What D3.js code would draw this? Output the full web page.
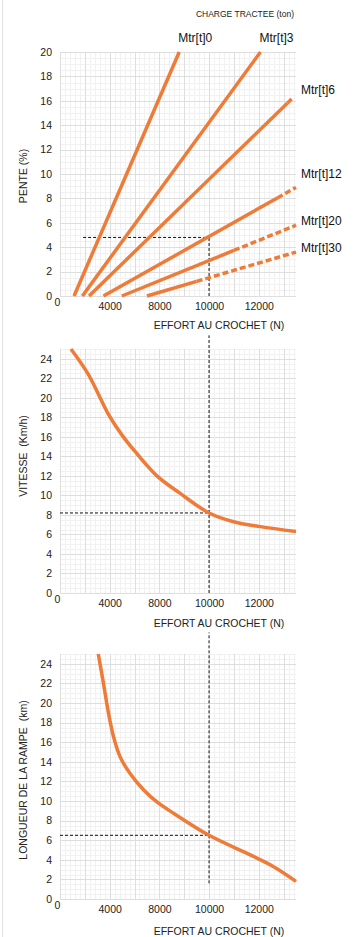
<!DOCTYPE html>
<html>
<head>
<meta charset="utf-8">
<script src="https://cdnjs.cloudflare.com/ajax/libs/d3/7.8.5/d3.min.js"></script>
<style>
  body { margin: 0; background: #fff; }
  svg { display: block; font-family: "Liberation Sans", Arial, sans-serif; }
  .axe text { font-size: 10.5px; fill: #222; }
  .titre { font-size: 10.5px; fill: #222; white-space: pre; }
  .serie { font-size: 12px; fill: #111; }
</style>
</head>
<body>
<div id="graphic"></div>
<script>
// Abaques de traction : pente, vitesse et longueur de rampe selon l'effort au crochet

// Axe X commun (effort au crochet, N)
const effortMin = 4000, effortMax = 13500;
const xTicks = [4000, 6000, 8000, 10000, 12000];
const xTickLabels = ["0", "4000", "8000", "10000", "12000"];

// Graphe 1 : pente (%) selon la charge tractée (droites)
const charges = ["Mtr[t]0", "Mtr[t]3", "Mtr[t]6", "Mtr[t]12", "Mtr[t]20", "Mtr[t]30"];
const penteEffortDebut = [4565, 4900, 5170, 5750, 6490, 7500];
const penteEffortFin = [8800, 12070, 13400, 13500, 13500, 13500];
const penteFin = [20, 20, 16.3, 8.9, 5.8, 3.6];
const effortPointilles = [null, null, 13150, 12750, 11000, 9500]; // début du tronçon en pointillés

// Graphe 2 : vitesse (km/h)
const vitesseEffort = [4440, 5140, 5950, 6490, 7020, 7900, 8840, 10000, 10990, 12060, 13500];
const vitesse = [25, 22.4, 18.3, 16.2, 14.5, 12.0, 10.2, 8.2, 7.3, 6.8, 6.3];

// Graphe 3 : longueur de la rampe (km)
const rampeEffort = [5540, 5750, 5950, 6150, 6420, 6820, 7360, 7900, 8600, 10000, 11660, 12600, 13500];
const rampe = [25, 22, 19.0, 16.6, 14.5, 12.8, 11.15, 9.9, 8.7, 6.5, 4.5, 3.3, 1.8];

// Lecture sur l'abaque (tirets noirs)
const effortLu = 10000;
const valeursLues = [4.8, 8.2, 6.5];
const verticaleBas = [0, 0, 1.6];
const verticaleHaut = [4.8, 26.4, 27.2];

// Mise en page
const largeur = 353, hauteur = 937;
const gauche = 60, droite = 296;
const orange = "#ee7b38";

let cadre = d3.select("#graphic")
  .append("svg")
  .attr("width", largeur)
  .attr("height", hauteur);

// filet gris du bord gauche de la page
cadre.append("line")
  .attr("x1", 2.5).attr("x2", 2.5).attr("y1", 0).attr("y2", hauteur)
  .attr("stroke", "#e2e2e2");

let x = d3.scaleLinear().domain([effortMin, effortMax]).range([gauche, droite]);

// Dessine la grille, les axes et les titres d'un graphe, renvoie l'échelle Y
function dessinerCadre(haut, bas, yMax, titreY, centreY, basTitreX) {
  let y = d3.scaleLinear().domain([0, yMax]).range([bas, haut]);
  let g = cadre.append("g");

  // grille fine puis grille principale
  let grilles = [
    {vx: d3.range(effortMin, effortMax, 200), vy: d3.range(0, yMax + 0.01, 0.5), c: "#f1f1f1"},
    {vx: d3.range(effortMin, effortMax, 1000), vy: d3.range(0, yMax + 0.01, 2), c: "#dedede"}
  ];
  grilles.forEach(function(gr) {
    let gx = g.append("g")
      .attr("transform", `translate(0,${bas})`)
      .call(d3.axisBottom(x).tickValues(gr.vx).tickSize(-(bas - haut)).tickFormat(""));
    let gy = g.append("g")
      .attr("transform", `translate(${gauche},0)`)
      .call(d3.axisLeft(y).tickValues(gr.vy).tickSize(-(droite - gauche)).tickFormat(""));
    [gx, gy].forEach(function(s) {
      s.select(".domain").remove();
      s.selectAll("line").attr("stroke", gr.c).attr("shape-rendering", "crispEdges");
    });
  });

  // Axe X
  let ax = g.append("g")
    .attr("class", "axe")
    .attr("transform", `translate(0,${bas})`)
    .call(d3.axisBottom(x).tickValues(xTicks).tickSize(0).tickPadding(7)
      .tickFormat(function(d, i) { return xTickLabels[i]; }));
  ax.select(".domain").remove();
  ax.selectAll("text").attr("font-family", null).attr("font-size", null);
  ax.selectAll(".tick text").filter(function(d, i) { return i === 0; })
    .attr("dx", -3).attr("y", 3);

  // Axe Y
  let ay = g.append("g")
    .attr("class", "axe")
    .attr("transform", `translate(${gauche},0)`)
    .call(d3.axisLeft(y).tickValues(d3.range(0, yMax + 0.01, 2)).tickSize(0).tickPadding(8));
  ay.select(".domain").remove();
  ay.selectAll("text").attr("font-family", null).attr("font-size", null);

  // Titres
  g.append("text")
    .attr("class", "titre")
    .attr("transform", `translate(23,${centreY}) rotate(-90)`)
    .attr("text-anchor", "middle")
    .attr("dy", "0.35em")
    .text(titreY);

  g.append("text")
    .attr("class", "titre")
    .attr("x", 219)
    .attr("y", basTitreX)
    .attr("text-anchor", "middle")
    .text("EFFORT AU CROCHET (N)");

  return y;
}

// Tirets de lecture
function dessinerLecture(y, k) {
  let t = cadre.append("g")
    .attr("stroke", "#111")
    .attr("stroke-width", 1)
    .attr("stroke-dasharray", "3,2");
  t.append("line")
    .attr("x1", x(effortLu)).attr("x2", x(effortLu))
    .attr("y1", y(verticaleBas[k])).attr("y2", y(verticaleHaut[k]));
  t.append("line")
    .attr("x1", x(k === 0 ? 4930 : effortMin)).attr("x2", x(effortLu))
    .attr("y1", y(valeursLues[k])).attr("y2", y(valeursLues[k]));
}

// ---------- Graphe 1 : pente ----------
let y1 = dessinerCadre(52, 296, 20, "PENTE (%)", 176, 329);

cadre.append("text")
  .attr("class", "titre")
  .attr("x", 294).attr("y", 17)
  .attr("text-anchor", "end")
  .style("font-size", "8.5px")
  .text("CHARGE TRACTEE (ton)");

dessinerLecture(y1, 0);

// décalage vertical des étiquettes de série
let decalage = [-10, -10, -3, -9, 0, 0];

charges.forEach(function(nom, i) {
  let x0 = penteEffortDebut[i], x1 = penteEffortFin[i], p1 = penteFin[i];
  let xc = effortPointilles[i] === null ? x1 : effortPointilles[i];
  let pc = p1 * (xc - x0) / (x1 - x0);

  cadre.append("line")
    .attr("x1", x(x0)).attr("y1", y1(0))
    .attr("x2", x(xc)).attr("y2", y1(pc))
    .attr("stroke", orange).attr("stroke-width", 3.5);

  if (effortPointilles[i] !== null) {
    cadre.append("line")
      .attr("x1", x(xc)).attr("y1", y1(pc))
      .attr("x2", x(x1)).attr("y2", y1(p1))
      .attr("stroke", orange).attr("stroke-width", 3.5)
      .attr("stroke-dasharray", "6,3");
  }

  let enHaut = p1 >= 20;
  cadre.append("text")
    .attr("class", "serie")
    .attr("x", enHaut ? x(x1) - 1 : droite + 5)
    .attr("y", y1(p1) + decalage[i])
    .text(nom);
});

// Courbe lissée
let courbe = function(y) {
  return d3.line()
    .x(function(d) { return x(d[0]); })
    .y(function(d) { return y(d[1]); })
    .curve(d3.curveCatmullRom.alpha(0.5));
};

// ---------- Graphe 2 : vitesse ----------
let y2 = dessinerCadre(349, 593, 25, "VITESSE  (Km/h)", 456, 627);
dessinerLecture(y2, 1);

cadre.append("path")
  .datum(d3.zip(vitesseEffort, vitesse))
  .attr("d", courbe(y2))
  .attr("fill", "none")
  .attr("stroke", orange)
  .attr("stroke-width", 3.5);

// ---------- Graphe 3 : longueur de rampe ----------
let y3 = dessinerCadre(654, 899, 25, "LONGUEUR DE LA RAMPE  (km)", 780, 935);
dessinerLecture(y3, 2);

cadre.append("path")
  .datum(d3.zip(rampeEffort, rampe))
  .attr("d", courbe(y3))
  .attr("fill", "none")
  .attr("stroke", orange)
  .attr("stroke-width", 3.5);
</script>
</body>
</html>
